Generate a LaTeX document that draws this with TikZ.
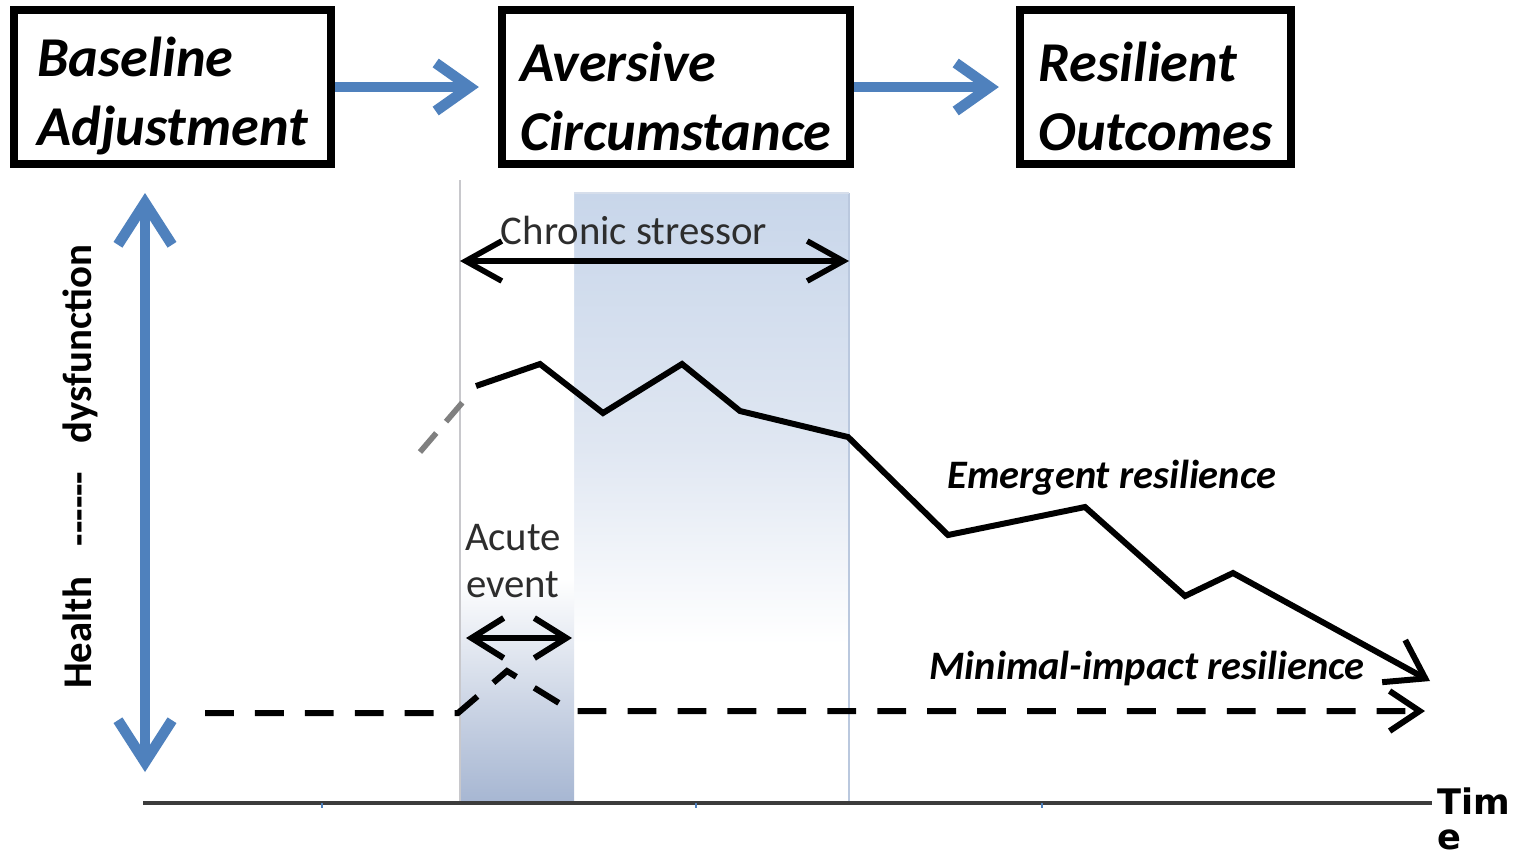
\documentclass[tikz,border=0pt]{standalone}
\usepackage{fontspec}
\setmainfont{Carlito}
\newfontfamily\timefont{DejaVu Sans}
\usetikzlibrary{arrows.meta}

\definecolor{officeblue}{RGB}{79,129,189}
\definecolor{chronictop}{RGB}{200,214,234}
\definecolor{chronicmid}{RGB}{224,231,242}
\definecolor{acutebottom}{RGB}{166,182,210}
\definecolor{acutemid}{RGB}{204,213,229}
\definecolor{edgegray}{RGB}{200,200,204}
\definecolor{edgeblue}{RGB}{186,200,222}
\definecolor{axisgray}{RGB}{60,60,60}
\definecolor{textgray}{RGB}{45,45,45}

% vertical shadings: the path box is mapped onto 25bp..75bp
\pgfdeclareverticalshading{chronicshade}{100bp}{%
  color(0bp)=(white); color(38bp)=(white); color(54bp)=(chronicmid);
  color(75bp)=(chronictop); color(100bp)=(chronictop)}
\pgfdeclareverticalshading{acuteshade}{100bp}{%
  color(0bp)=(acutebottom); color(25bp)=(acutebottom); color(33bp)=(acutemid);
  color(43bp)=(white); color(100bp)=(white)}

\newcommand\hy{\mbox{-}}
\newcommand\boxstrut{\rule{0pt}{16.5pt}}

\tikzset{
  stagebox/.style={draw, line width=2.3pt, align=left, inner sep=0pt,
    minimum height=1.54cm,
    font=\bfseries\itshape\fontsize{16}{19.6}\selectfont},
  bluearrow/.style={draw=officeblue, line width=3pt,
    -{Straight Barb[length=0.34cm, width=0.48cm]}},
  yaxis/.style={draw=officeblue, line width=3pt,
    {Straight Barb[length=0.42cm, width=0.54cm]}-{Straight Barb[length=0.42cm, width=0.54cm]}},
  spanarrow/.style={line width=1.6pt,
    {Straight Barb[length=0.36cm, width=0.4cm]}-{Straight Barb[length=0.36cm, width=0.4cm]}},
  shortspan/.style={line width=1.7pt,
    {Straight Barb[length=0.32cm, width=0.4cm]}-{Straight Barb[length=0.32cm, width=0.4cm]}},
  trajectory/.style={line width=1.7pt, line join=miter,
    -{Straight Barb[length=0.36cm, width=0.48cm]}},
  flatline/.style={line width=1.7pt, dash pattern=on 8.2pt off 6pt,
    -{Straight Barb[length=0.3cm, width=0.4cm]}},
  curvelabel/.style={font=\bfseries\itshape\fontsize{11.5}{13.8}\selectfont},
  spanlabel/.style={text=textgray, font=\fontsize{11.6}{13.4}\selectfont, align=center},
}

\begin{document}
\begin{tikzpicture}[x=0.01cm, y=-0.01cm]
\useasboundingbox[fill=white] (0,0) rectangle (1518,856);

% shaded periods
\shade[shading=chronicshade] (574,193) rectangle (849,803);
\shade[shading=acuteshade] (460,180) rectangle (574,803);
\draw[edgegray, line width=0.7pt] (460,180) -- (460,803);
\draw[edgeblue, line width=0.7pt] (849,193) -- (849,803);
\draw[edgeblue!60, line width=0.5pt] (574,193) -- (849,193);

% stage boxes
\node[stagebox, minimum width=3.17cm] (base) at (172.5,87) {\boxstrut Baseline\\Adjustment};
\node[stagebox, minimum width=3.48cm] (aver) at (676,87) {\boxstrut Aversive\\Circumstance};
\node[stagebox, minimum width=2.71cm] (resil) at (1155.5,87) {\boxstrut Resilient\\Outcomes};
\draw[bluearrow, shorten >=0.19cm] (base) -- (aver);
\draw[bluearrow, shorten >=0.17cm] (aver) -- (resil);

% health axis
\coordinate (ytop) at (145,193);
\coordinate (ybot) at (145,772);
\draw[yaxis] (ybot) -- (ytop);
\node[rotate=90, font=\bfseries\fontsize{11.6}{13}\selectfont] (ylabel) at (80,467)
  {Health\hspace{0.3cm}\hy\hy\hy\hy\hy\hy\hspace{0.28cm}dysfunction};

% time axis
\coordinate (ax0) at (143,803);
\coordinate (ax1) at (1432,803);
\draw[axisgray, line width=1.1pt] (ax0) -- (ax1);
\foreach \tx in {322,696,1042}
  \draw[officeblue, line width=0.8pt] (\tx,803) -- (\tx,808);
\node[anchor=north west, inner sep=0pt, align=left,
  font=\timefont\bfseries\fontsize{10}{10}\selectfont] (time) at (1437,787) {Tim\\e};

% chronic stressor span
\coordinate (cs0) at (460,261);
\coordinate (cs1) at (849,261);
\draw[spanarrow] (cs0) -- (cs1);
\node[spanlabel] (cslabel) at (634,230) {Chronic stressor};

% acute event span
\coordinate (ae0) at (466,638);
\coordinate (ae1) at (572,638);
\draw[shortspan] (ae0) -- (ae1);
\node[spanlabel] (aelabel) at (513,561) {Acute\\event};

% emergent resilience trajectory
\coordinate (e0) at (420,452);
\coordinate (e1) at (468,396);
\draw[gray, line width=1.6pt, dash pattern=on 0.25cm off 0.15cm] (e0) -- (e1);
\coordinate (e2) at (476,386);
\coordinate (eend) at (1430,681);
\draw[trajectory] (e2) -- (540,364) -- (603,413) -- (682,364) -- (740,411)
  -- (848,437) -- (948,535) -- (1085,507) -- (1185,596) -- (1233,573) -- (eend);
\node[curvelabel] (emlabel) at (1112,478) {Emergent resilience};

% minimal-impact resilience trajectory
\coordinate (m0) at (205,713);
\coordinate (mend) at (1425,711);
\draw[flatline] (m0) -- (458,713) -- (507,671) -- (572,711) -- (mend);
\node[curvelabel] (milabel) at (1147,668) {Minimal-impact resilience};
\end{tikzpicture}
\end{document}
